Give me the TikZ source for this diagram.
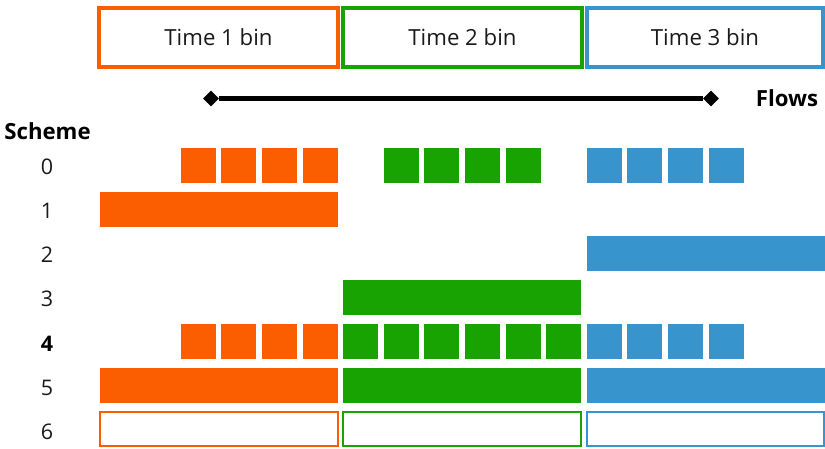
\documentclass[tikz,border=0pt]{standalone}
\usepackage{fontspec}
\setmainfont{Open Sans}
\usetikzlibrary{shapes.geometric}
\definecolor{corange}{HTML}{FB5E00}
\definecolor{cgreen}{HTML}{19A302}
\definecolor{cblue}{HTML}{3794CC}
\definecolor{ctext}{HTML}{1A1A1A}
\tikzset{
  sq/.style={anchor=north west, inner sep=0, outer sep=0, minimum width=35pt, minimum height=35pt, draw=none},
  bar/.style={anchor=north west, inner sep=0, outer sep=0, minimum width=238pt, minimum height=35pt, draw=none},
  outl/.style={anchor=north west, inner sep=0, outer sep=0, minimum width=238pt, minimum height=34pt, line width=2pt},
  binbox/.style={anchor=north west, inner sep=0, outer sep=0, minimum width=239pt, minimum height=59pt, line width=4pt, text=ctext, font=\fontsize{22.2}{26}\selectfont},
  rowlab/.style={anchor=base, text=ctext, inner sep=0, font=\fontsize{21.5}{25}\selectfont},
  boldlab/.style={anchor=base, text=black, inner sep=0, font=\fontsize{22.2}{26}\selectfont\bfseries},
  endmark/.style={diamond, fill=black, inner sep=0, minimum width=16pt, minimum height=16pt},
}
\begin{document}
\begin{tikzpicture}[x=1pt,y=-1pt]
\useasboundingbox (0,0) rectangle (825,448);
% top bins
\node[binbox, draw=corange] (bin1) at (99,8) {Time 1 bin};
\node[binbox, draw=cgreen] (bin2) at (343,8) {Time 2 bin};
\node[binbox, draw=cblue, minimum width=236pt] (bin3) at (587,8) {Time 3 bin};
% flows
\node[endmark] (fl) at (211,98.5) {};
\node[endmark] (fr) at (711,98.5) {};
\draw[line width=4.5pt] (fl) -- (fr);
\node[boldlab] (flows) at (787,106) {Flows};
% scheme labels
\node[boldlab] (scheme) at (47.5,139) {Scheme};
\node[rowlab] (r0) at (47,174) {0};
\node[rowlab] (r1) at (47,218) {1};
\node[rowlab] (r2) at (47,262) {2};
\node[rowlab] (r3) at (47,306.5) {3};
\node[boldlab, font=\fontsize{21.5}{25}\selectfont\bfseries] (r4) at (47,351) {4};
\node[rowlab] (r5) at (47,395) {5};
\node[rowlab] (r6) at (47,439) {6};
% row 0
\node[sq, fill=corange] (a0) at (181,148) {};
\node[sq, fill=corange] (a1) at (221,148) {};
\node[sq, fill=corange] (a2) at (262,148) {};
\node[sq, fill=corange] (a3) at (303,148) {};
\node[sq, fill=cgreen] (a4) at (384,148) {};
\node[sq, fill=cgreen] (a5) at (424,148) {};
\node[sq, fill=cgreen] (a6) at (465,148) {};
\node[sq, fill=cgreen] (a7) at (506,148) {};
\node[sq, fill=cblue] (a8) at (587,148) {};
\node[sq, fill=cblue] (a9) at (627,148) {};
\node[sq, fill=cblue] (a10) at (668,148) {};
\node[sq, fill=cblue] (a11) at (709,148) {};
% row 1
\node[bar, fill=corange] (b1) at (100,192) {};
% row 2
\node[bar, fill=cblue] (b2) at (587,236) {};
% row 3
\node[bar, fill=cgreen] (b3) at (343,280) {};
% row 4
\node[sq, fill=corange] (c0) at (181,324) {};
\node[sq, fill=corange] (c1) at (221,324) {};
\node[sq, fill=corange] (c2) at (262,324) {};
\node[sq, fill=corange] (c3) at (303,324) {};
\node[sq, fill=cgreen] (c4) at (343,324) {};
\node[sq, fill=cgreen] (c5) at (384,324) {};
\node[sq, fill=cgreen] (c6) at (424,324) {};
\node[sq, fill=cgreen] (c7) at (465,324) {};
\node[sq, fill=cgreen] (c8) at (506,324) {};
\node[sq, fill=cgreen] (c9) at (546,324) {};
\node[sq, fill=cblue] (c10) at (587,324) {};
\node[sq, fill=cblue] (c11) at (627,324) {};
\node[sq, fill=cblue] (c12) at (668,324) {};
\node[sq, fill=cblue] (c13) at (709,324) {};
% row 5
\node[bar, fill=corange] (d1) at (100,368) {};
\node[bar, fill=cgreen] (d2) at (343,368) {};
\node[bar, fill=cblue] (d3) at (587,368) {};
% row 6
\node[outl, draw=corange] (e1) at (100,412) {};
\node[outl, draw=cgreen] (e2) at (343,412) {};
\node[outl, draw=cblue, minimum width=237pt] (e3) at (587,412) {};
\end{tikzpicture}
\end{document}
